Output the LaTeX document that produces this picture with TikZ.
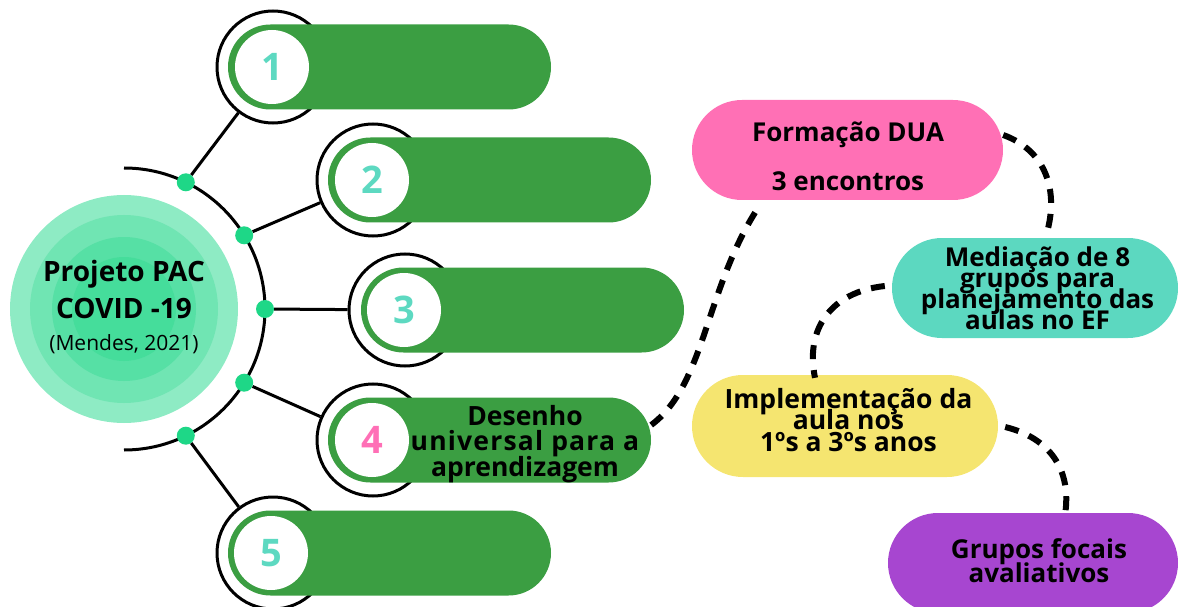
\documentclass[tikz,border=0pt]{standalone}
\usepackage{fontspec}
\setmainfont{Open Sans}
\usetikzlibrary{calc}
\definecolor{pillgreen}{RGB}{59,158,66}
\definecolor{numteal}{RGB}{93,217,193}
\definecolor{numpink}{RGB}{255,111,182}
\definecolor{dotgreen}{RGB}{30,215,135}
\definecolor{ringA}{RGB}{142,235,196}
\definecolor{ringB}{RGB}{112,229,179}
\definecolor{ringC}{RGB}{86,224,165}
\definecolor{ringD}{RGB}{69,221,155}
\definecolor{pinkblob}{RGB}{255,112,181}
\definecolor{tealblob}{RGB}{92,216,192}
\definecolor{yellowblob}{RGB}{245,229,112}
\definecolor{purpleblob}{RGB}{167,70,208}
\newcommand\tightlead{\lineskiplimit=-40pt\relax}
\tikzset{
  ring/.style={circle, draw=black, line width=3pt, fill=white, minimum size=112pt, inner sep=0pt},
  pillbox/.style={rectangle, fill=pillgreen, rounded corners=42.5pt, minimum width=323pt, minimum height=85pt, inner sep=0pt},
  numcirc/.style={circle, fill=white, minimum size=74pt, inner sep=0pt, font=\fontsize{38}{38}\selectfont\bfseries, text=numteal},
  dotn/.style={circle, fill=dotgreen, minimum size=18pt, inner sep=0pt},
  spoke/.style={line width=3pt},
  blob/.style={rectangle, inner sep=0pt},
  dashcurve/.style={line width=6pt, dash pattern=on 14pt off 11pt},
  btext/.style={anchor=base, align=center, inner sep=0pt, text=black},
}
\begin{document}
\begin{tikzpicture}[x=1pt,y=-1pt]
\useasboundingbox (0,0) rectangle (1179,607);
\clip (0,0) rectangle (1179,607);
% central circle
\coordinate (cc) at (124,309);
\fill[ringA] (cc) circle[radius=114];
\fill[ringB] (cc) circle[radius=94];
\fill[ringC] (cc) circle[radius=72];
\fill[ringD] (cc) circle[radius=52];
\node[btext, font=\fontsize{28}{36.5}\selectfont\bfseries] (ctitle) at (124,318) {Projeto PAC\\COVID -19};
\node[btext, font=\fontsize{21}{21}\selectfont] (cref) at (124,350) {(Mendes, 2021)};
% arc
\draw[line width=3pt] (124,168) arc[start angle=-90, end angle=90, radius=141];
% rings
\node[ring] (ring1) at (273,67) {};
\node[ring] (ring2) at (373,180) {};
\node[ring] (ring3) at (405,310) {};
\node[ring] (ring4) at (373,440) {};
\node[ring] (ring5) at (273,553) {};
% pills
\node[pillbox] (pill1) at (389.5,67) {};
\node[pillbox] (pill2) at (489.5,180) {};
\node[pillbox] (pill3) at (522.5,310) {};
\node[pillbox] (pill4) at (489.5,440) {};
\node[pillbox] (pill5) at (389.5,553) {};
\node[numcirc] (n1) at (272,67) {1};
\node[numcirc] (n2) at (372,180) {2};
\node[numcirc] (n3) at (404,310) {3};
\node[numcirc, text=numpink] (n4) at (372,440) {4};
\node[numcirc] (n5) at (271,553) {5};
\node[btext, font=\fontsize{26.5}{25.5}\selectfont\bfseries\tightlead] (t4) at (525,476) {Desenho\\{\addfontfeature{LetterSpace=4.5}universal para a}\\aprendizagem};
% dots
\node[dotn] (d1) at (185.8,182.3) {};
\node[dotn] (d2) at (244.2,235.3) {};
\node[dotn] (d3) at (265,309) {};
\node[dotn] (d4) at (244.2,382.7) {};
\node[dotn] (d5) at (185.8,435.7) {};
\draw[spoke] (d1) -- (ring1);
\draw[spoke] (d2) -- (ring2);
\draw[spoke] (d3) -- (ring3);
\draw[spoke] (d4) -- (ring4);
\draw[spoke] (d5) -- (ring5);
% right blobs
\node[blob, fill=pinkblob, rounded corners=50pt, minimum width=311pt, minimum height=100pt] (fdua) at (847.5,150) {};
\node[blob, fill=tealblob, rounded corners=50pt, minimum width=286pt, minimum height=100pt] (med) at (1035,288) {};
\node[blob, fill=yellowblob, rounded corners=51pt, minimum width=306pt, minimum height=102pt] (impl) at (845,426) {};
\node[blob, fill=purpleblob, rounded corners=50pt, minimum width=290pt, minimum height=100pt] (grp) at (1033,563) {};
\node[btext, font=\fontsize{26}{48}\selectfont\bfseries] (fduat) at (848,190) {Formação DUA\\3 encontros};
\node[btext, font=\fontsize{26}{21}\selectfont\bfseries\tightlead] (medt) at (1037.5,329) {Mediação de 8\\grupos para\\planejamento das\\aulas no EF};
\node[btext, font=\fontsize{26.5}{21.5}\selectfont\bfseries\tightlead] (implt) at (848.5,451) {Implementação da\\aula nos\\1ºs a 3ºs anos};
\node[btext, font=\fontsize{26}{24}\selectfont\bfseries\tightlead] (grpt) at (1039,582) {Grupos focais\\avaliativos};
% dashed connectors
\draw[dashcurve] ($(pill4.east)+(0,-15)$) .. controls (705,385) and (705,290) .. ($(fdua.south west)+(66,8)$);
\draw[dashcurve] ($(fdua.east)+(0,-15)$) .. controls (1045,150) and (1060,190) .. ($(med.north)+(11,-2)$);
\draw[dashcurve] ($(med.west)+(-7,-2)$) .. controls (830,292) and (805,330) .. ($(impl.north)+(-30,3)$);
\draw[dashcurve] ($(impl.east)+(7,1)$) .. controls (1050,438) and (1072,470) .. ($(grp.north)+(32,2)$);
\end{tikzpicture}
\end{document}
